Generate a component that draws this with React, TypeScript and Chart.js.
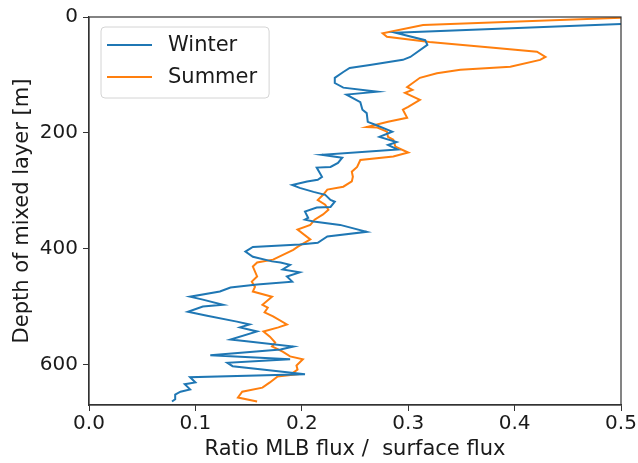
import React, { useEffect, useRef } from "react";
import { Chart, registerables } from "chart.js";

Chart.register(...registerables);

// Winter profile: ratio of MLB flux to surface flux vs depth of mixed layer [m]
const winterRatio = [
  0.5, 0.288, 0.316, 0.318, 0.302, 0.295, 0.264, 0.245, 0.239, 0.231, 0.231, 0.239, 0.271, 0.242,
  0.255, 0.257, 0.261, 0.262, 0.269, 0.285, 0.273, 0.289, 0.281, 0.29, 0.219, 0.238, 0.234, 0.227,
  0.214, 0.219, 0.215, 0.205, 0.191, 0.198, 0.211, 0.222, 0.227, 0.231, 0.227, 0.214, 0.203, 0.206,
  0.203, 0.211, 0.236, 0.261, 0.224, 0.215, 0.198, 0.154, 0.147, 0.154, 0.172, 0.18, 0.189, 0.182,
  0.198, 0.186, 0.191, 0.158, 0.133, 0.123, 0.095, 0.107, 0.126, 0.107, 0.093, 0.111, 0.139, 0.151,
  0.142, 0.158, 0.133, 0.148, 0.192, 0.18, 0.114, 0.189, 0.13, 0.135, 0.165, 0.203, 0.095, 0.1,
  0.09, 0.095, 0.086, 0.081, 0.081, 0.078,
];
const winterDepth = [
  12, 27, 40, 48, 69, 74, 83, 88, 95, 105, 114, 122, 129, 134,
  147, 160, 166, 181, 186, 198, 207, 216, 221, 229, 238, 243, 252, 259,
  260, 276, 281, 284, 290, 295, 302, 307, 316, 319, 328, 329, 336, 347,
  350, 353, 359, 371, 379, 390, 393, 397, 405, 414, 422, 424, 428, 436,
  441, 448, 457, 462, 467, 474, 483, 488, 497, 500, 509, 516, 526, 531,
  536, 543, 557, 560, 569, 574, 584, 591, 597, 603, 609, 617, 622, 631,
  634, 643, 647, 652, 660, 664,
];

// Summer profile
const summerRatio = [
  0.505, 0.314, 0.276, 0.28, 0.32, 0.38, 0.421, 0.429, 0.424, 0.396, 0.349, 0.327, 0.311, 0.302,
  0.299, 0.304, 0.297, 0.311, 0.3, 0.295, 0.299, 0.281, 0.261, 0.271, 0.28, 0.281, 0.286, 0.288,
  0.3, 0.286, 0.255, 0.252, 0.247, 0.248, 0.247, 0.239, 0.224, 0.22, 0.215, 0.222, 0.225, 0.22,
  0.212, 0.208, 0.196, 0.208, 0.196, 0.192, 0.173, 0.158, 0.154, 0.158, 0.153, 0.156, 0.154, 0.172,
  0.163, 0.168, 0.165, 0.173, 0.186, 0.178, 0.164, 0.17, 0.175, 0.172, 0.182, 0.189, 0.201, 0.195,
  0.196, 0.192, 0.195, 0.177, 0.17, 0.163, 0.144, 0.14, 0.158,
];
const summerDepth = [
  1, 14, 28, 34, 43, 53, 60, 69, 74, 86, 91, 97, 105, 117,
  121, 126, 131, 143, 155, 160, 174, 181, 190, 191, 198, 207, 212, 224,
  234, 241, 247, 259, 267, 276, 284, 293, 298, 307, 316, 324, 333, 341,
  350, 359, 367, 384, 397, 402, 419, 424, 431, 448, 457, 466, 474, 483,
  497, 502, 510, 517, 531, 536, 543, 552, 562, 569, 578, 586, 591, 602,
  609, 614, 617, 621, 631, 640, 647, 657, 664,
];

const xTicks = [0, 0.1, 0.2, 0.3, 0.4, 0.5];
const yTicks = [0, 200, 400, 600];

const seriesNames = ["Winter", "Summer"];
const seriesColors = ["#1f77b4", "#ff7f0e"];

const FONT = "'DejaVu Sans', sans-serif";

const frameAndLegend = {
  id: "frameAndLegend",
  afterDatasetsDraw(chart: any) {
    const { ctx, chartArea } = chart;
    const { left, top, right, bottom } = chartArea;
    ctx.save();
    // full box frame
    ctx.strokeStyle = "#333333";
    ctx.lineWidth = 1.2;
    ctx.strokeRect(left, top, right - left, bottom - top);

    // legend
    ctx.font = `21px ${FONT}`;
    const bx = left + 12;
    const by = top + 10;
    const textX = bx + 67;
    let maxW = 0;
    chart.data.datasets.forEach((d: any) => {
      maxW = Math.max(maxW, ctx.measureText(d.label).width);
    });
    const bw = textX - bx + maxW + 12;
    const bh = 71;
    const r = 4;
    ctx.beginPath();
    ctx.moveTo(bx + r, by);
    ctx.lineTo(bx + bw - r, by);
    ctx.arcTo(bx + bw, by, bx + bw, by + r, r);
    ctx.lineTo(bx + bw, by + bh - r);
    ctx.arcTo(bx + bw, by + bh, bx + bw - r, by + bh, r);
    ctx.lineTo(bx + r, by + bh);
    ctx.arcTo(bx, by + bh, bx, by + bh - r, r);
    ctx.lineTo(bx, by + r);
    ctx.arcTo(bx, by, bx + r, by, r);
    ctx.closePath();
    ctx.fillStyle = "rgba(255,255,255,0.85)";
    ctx.fill();
    ctx.strokeStyle = "#d4d4d4";
    ctx.lineWidth = 1;
    ctx.stroke();

    chart.data.datasets.forEach((d: any, i: number) => {
      const y = by + 18 + i * 32;
      ctx.strokeStyle = d.borderColor;
      ctx.lineWidth = 2;
      ctx.beginPath();
      ctx.moveTo(bx + 6, y);
      ctx.lineTo(bx + 51, y);
      ctx.stroke();
      ctx.fillStyle = "#1a1a1a";
      ctx.textBaseline = "middle";
      ctx.textAlign = "left";
      ctx.fillText(d.label, textX, y + 1);
    });
    ctx.restore();
  },
};

export default function App() {
  const canvasRef = useRef<HTMLCanvasElement | null>(null);

  useEffect(() => {
    if (!canvasRef.current) return;
    const toPoints = (xs: number[], ys: number[]) => xs.map((x, i) => ({ x, y: ys[i] }));
    const chart = new Chart(canvasRef.current, {
      type: "scatter",
      data: {
        datasets: [
          {
            label: seriesNames[0],
            data: toPoints(winterRatio, winterDepth),
            showLine: true,
            borderColor: seriesColors[0],
            backgroundColor: seriesColors[0],
            borderWidth: 2,
            pointRadius: 0,
            pointHoverRadius: 0,
            tension: 0,
          },
          {
            label: seriesNames[1],
            data: toPoints(summerRatio, summerDepth),
            showLine: true,
            borderColor: seriesColors[1],
            backgroundColor: seriesColors[1],
            borderWidth: 2,
            pointRadius: 0,
            pointHoverRadius: 0,
            tension: 0,
          },
        ],
      },
      options: {
        animation: false,
        responsive: false,
        devicePixelRatio: 1,
        layout: { padding: { top: 17, right: 17, left: 0, bottom: 0 } },
        plugins: {
          legend: { display: false },
          tooltip: { enabled: false },
        },
        scales: {
          x: {
            type: "linear",
            min: 0,
            max: 0.5,
            afterFit: (s: any) => {
              s.height = 58;
            },
            afterBuildTicks: (s: any) => {
              s.ticks = xTicks.map((v) => ({ value: v }));
            },
            ticks: {
              font: { family: FONT, size: 20 },
              color: "#1a1a1a",
              padding: 1,
              maxRotation: 0,
              callback: (v: any) => Number(v).toFixed(1),
            },
            grid: {
              display: true,
              drawOnChartArea: false,
              drawTicks: true,
              tickLength: 6,
              tickColor: "#333333",
            },
            border: { display: true, color: "#333333", width: 1.2 },
            title: {
              display: true,
              text: "Ratio MLB flux /  surface flux",
              font: { family: FONT, size: 21 },
              color: "#1a1a1a",
              padding: { top: 0, bottom: 1 },
            },
          },
          y: {
            type: "linear",
            reverse: true,
            min: 0,
            max: 670,
            afterFit: (s: any) => {
              s.width = 89;
            },
            afterBuildTicks: (s: any) => {
              s.ticks = yTicks.map((v) => ({ value: v }));
            },
            ticks: {
              font: { family: FONT, size: 20 },
              color: "#1a1a1a",
              padding: 5,
            },
            grid: {
              display: true,
              drawOnChartArea: false,
              drawTicks: true,
              tickLength: 6,
              tickColor: "#333333",
            },
            border: { display: true, color: "#333333", width: 1.2 },
            title: {
              display: true,
              text: "Depth of mixed layer [m]",
              font: { family: FONT, size: 21 },
              color: "#1a1a1a",
              padding: { top: 10, bottom: 0 },
            },
          },
        },
      },
      plugins: [frameAndLegend],
    });
    return () => chart.destroy();
  }, []);

  return (
    <div style={{ position: "fixed", left: 0, top: 0, width: 638, height: 463, background: "#fff" }}>
      <canvas ref={canvasRef} width={638} height={463} style={{ display: "block", width: 638, height: 463 }} />
    </div>
  );
}
